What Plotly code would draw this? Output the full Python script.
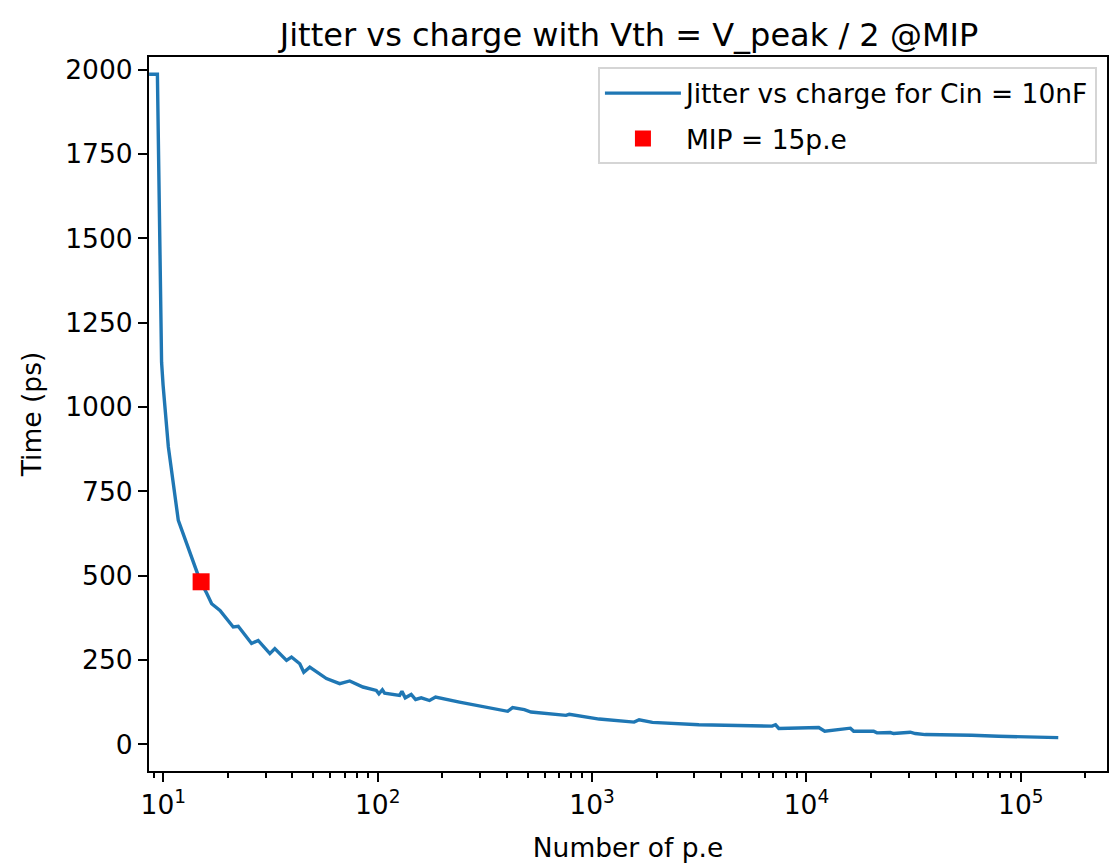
import plotly.graph_objects as go

# ---- data ----
charge_pe = [8.58, 9.38, 9.81, 9.97, 10.55, 11.74, 12.85, 14.05, 14.82, 15.93,
             16.80, 18.37, 19.73, 21.18, 22.35, 25.79, 27.69, 31.39, 33.11, 37.54,
             39.60, 43.29, 45.19, 48.19, 57.65, 66.46, 74.00, 85.3, 98.5, 101.3,
             105.1, 107.7, 126.5, 129.7, 134.4, 143.3, 150.2, 159.6, 174.4, 186.1,
             240.6, 309.0, 325.9, 403.7, 425.9, 483.0, 518.9, 755.1, 782.3, 1079,
             1570, 1657, 1911, 3151, 6915, 7174, 7431, 11410, 12170, 16030,
             16610, 20570, 21320, 24610, 25500, 30500, 32180, 35810, 59010, 78620,
             149500]
jitter_ps = [1987, 1987, 1133, 1065, 882, 664, 595, 526, 486, 448,
             417, 397, 374, 348, 350, 299, 308, 269, 284, 249,
             259, 239, 214, 229, 195, 180, 188, 170, 160, 150,
             162, 152, 145, 157, 138, 148, 133, 138, 130, 140,
             125, 113, 108, 98, 109, 103, 96, 86, 89, 75,
             66, 73, 65, 58, 54, 58, 47, 50, 39, 48,
             39, 39, 34, 35, 32, 36, 32, 29, 27, 24,
             20]

mip_x = [15]
mip_y = [482]

y_ticks = [0, 250, 500, 750, 1000, 1250, 1500, 1750, 2000]
x_ticks = [10, 100, 1000, 10000, 100000]
x_ticktext = ["10<sup>1</sup>", "10<sup>2</sup>", "10<sup>3</sup>", "10<sup>4</sup>", "10<sup>5</sup>"]
x_minor = [m * 10 ** e for e in range(0, 6) for m in range(2, 10)]

FONT = "DejaVu Sans"
FS = 26.5

fig = go.Figure()
fig.add_trace(go.Scatter(
    x=charge_pe, y=jitter_ps, mode="lines",
    name="Jitter vs charge for Cin = 10nF", legendgroup="a",
    line=dict(color="#1f77b4", width=3.4),
))
fig.add_trace(go.Scatter(
    x=mip_x, y=mip_y, mode="markers",
    name="MIP = 15p.e", legendgroup="b",
    marker=dict(symbol="square", color="red", size=17),
))

axis_common = dict(
    showline=True, linecolor="black", linewidth=2, mirror=True,
    ticks="outside", ticklen=9, tickwidth=2, tickcolor="black",
    showgrid=False, zeroline=False,
    tickfont=dict(family=FONT, size=FS, color="black"),
)

fig.update_layout(
    width=1114, height=865,
    margin=dict(l=149, r=5, t=57, b=94),
    paper_bgcolor="white", plot_bgcolor="white",
    title=dict(text="Jitter vs charge with Vth = V_peak / 2 @MIP",
               x=(149 + 1109) / 2 / 1114, xanchor="center",
               y=1 - 35 / 865, yanchor="middle",
               font=dict(family=FONT, size=32, color="black")),
    xaxis=dict(type="log", range=[0.933, 5.402],
               tickvals=x_ticks, ticktext=x_ticktext,
               minor=dict(tickvals=x_minor, ticks="outside", ticklen=5,
                          tickwidth=1.6, tickcolor="black", showgrid=False),
               title=dict(text="Number of p.e", standoff=20,
                          font=dict(family=FONT, size=FS, color="black")),
               **axis_common),
    yaxis=dict(range=[-79, 2038], tickvals=y_ticks,
               title=dict(text="Time (ps)", standoff=16,
                          font=dict(family=FONT, size=FS, color="black")),
               **axis_common),
    legend=dict(x=0.9895, y=0.9855, xanchor="right", yanchor="top",
                bgcolor="rgba(255,255,255,0.8)", bordercolor="#d5d5d5",
                borderwidth=2, tracegroupgap=8,
                font=dict(family=FONT, size=FS, color="black"),
                itemwidth=76),
    showlegend=True,
)

fig.write_html("out.html")
